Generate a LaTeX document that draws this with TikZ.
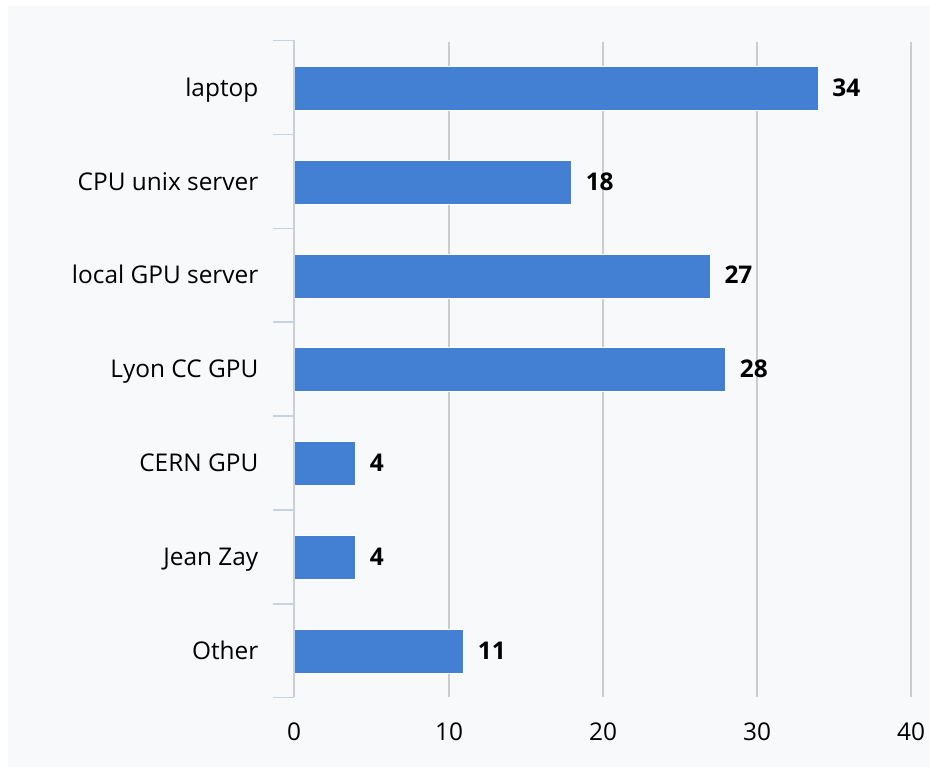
\documentclass[tikz,border=0pt]{standalone}
\usepackage{fontspec}
\setmainfont{Open Sans}
\definecolor{panel}{HTML}{F8F9FB}
\definecolor{barblue}{HTML}{437FD2}
\definecolor{gridc}{HTML}{CCCCCC}
\definecolor{axisc}{HTML}{CBD0D6}
\definecolor{tickc}{HTML}{C7D3E0}
\begin{document}
\begin{tikzpicture}[x=1pt,y=-1pt,
  catlabel/.style={anchor=base east,inner sep=0pt,font=\fontsize{24.4}{29}\selectfont},
  vallabel/.style={anchor=base west,inner sep=0pt,font=\fontsize{24.4}{29}\selectfont\bfseries},
  ticklabel/.style={anchor=base,inner sep=0pt,font=\fontsize{24.4}{29}\selectfont},
  gridline/.style={draw=gridc,line width=1.6pt},
  barstyle/.style={fill=barblue,draw=white,line width=0.6pt}]
\useasboundingbox (0,0) rectangle (930,767);
\fill[white] (0,0) rectangle (930,767);
\fill[panel] (8,6) rectangle (930,767);
% grid lines
\foreach \v/\xx in {10/449,20/603,30/757,40/911}{
  \draw[gridline] (\xx,42) -- (\xx,697);
}
% bars
\foreach \i/\v/\lab in {0/34/laptop,1/18/CPU unix server,2/27/local GPU server,3/28/Lyon CC GPU,4/4/CERN GPU,5/4/Jean Zay,6/11/Other}{
  \pgfmathsetmacro{\cy}{88.5+93.75*\i}
  \pgfmathsetmacro{\xe}{294+15.42*\v}
  \path[barstyle] (294,\cy-22) rectangle (\xe,\cy+22);
  \node[catlabel] (cat\i) at (258.5,\cy+8) {\lab};
  \node[vallabel] (val\i) at (\xe+14,\cy+8) {\v};
}
% axis
\draw[draw=axisc,line width=1.8pt] (294,40) -- (294,697);
\foreach \k in {0,...,7}{
  \pgfmathsetmacro{\ty}{40.7+93.85*\k}
  \draw[draw=tickc,line width=1.6pt] (273,\ty) -- (294,\ty);
}
% tick labels
\foreach \v/\xx in {0/294,10/449,20/603,30/757,40/911}{
  \node[ticklabel] (t\v) at (\xx,740) {\v};
}
\end{tikzpicture}
\end{document}
